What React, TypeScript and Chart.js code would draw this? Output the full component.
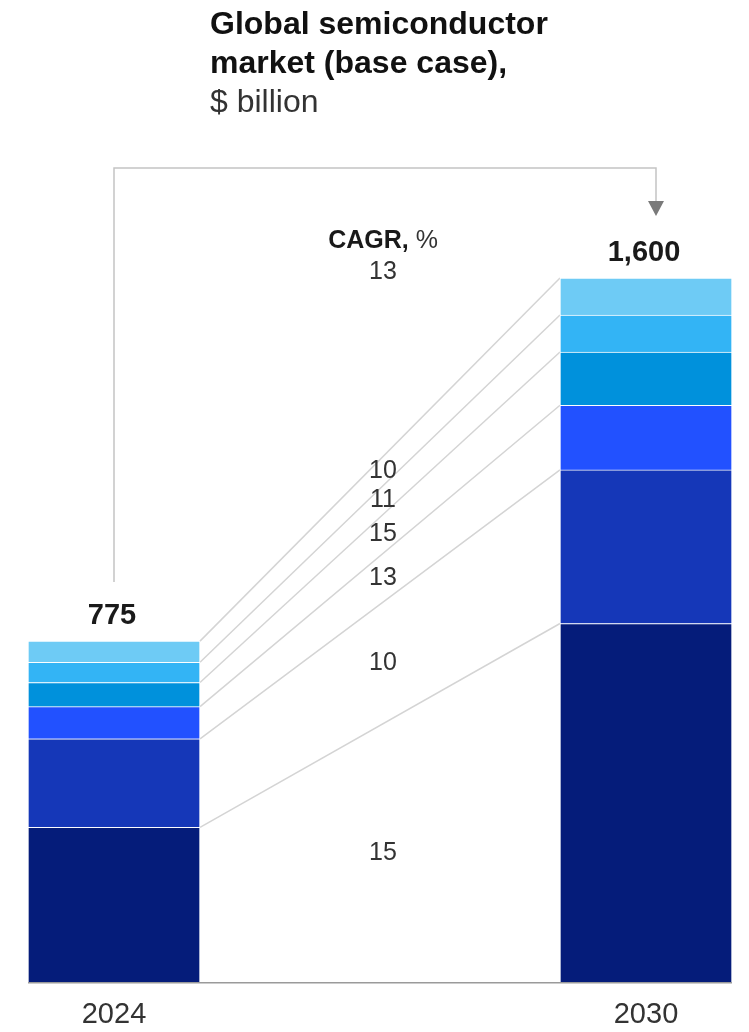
import React, { useEffect, useRef } from 'react';
import { Chart, registerables } from 'chart.js';

Chart.register(...registerables);

const years = ['2024', '2030'];
// segments listed bottom to top, $ billion
const values2024 = [352, 201, 73, 55, 46, 48];
const values2030 = [815, 349, 147, 121, 84, 84];
const totals = [775, 1600];
const totalLabels = ['775', '1,600'];
const segmentCagr = ['15', '10', '13', '15', '11', '10'];
const totalCagr = '13';
const segmentColors = ['#051C7A', '#1537B8', '#2251FF', '#0091DC', '#33B4F5', '#6ECBF5'];

const FONT = '"Liberation Sans", Arial, sans-serif';

const overlayPlugin = {
  id: 'overlay',
  beforeDatasetsDraw(chart: any) {
    const ctx = chart.ctx;
    ctx.save();
    ctx.strokeStyle = '#d4d4d4';
    ctx.lineWidth = 1.5;
    chart.data.datasets.forEach((_: any, i: number) => {
      const meta = chart.getDatasetMeta(i);
      const a = meta.data[0];
      const b = meta.data[1];
      ctx.beginPath();
      ctx.moveTo(a.x + a.width / 2, a.y);
      ctx.lineTo(b.x - b.width / 2, b.y);
      ctx.stroke();
    });
    ctx.restore();
  },
  afterDatasetsDraw(chart: any) {
    const ctx = chart.ctx;
    const yScale = chart.scales.y;
    const n = chart.data.datasets.length;
    const first = chart.getDatasetMeta(0);
    const bar0 = first.data[0];
    const bar1 = first.data[1];
    const leftEdge = bar0.x - bar0.width / 2;
    const rightEdge = bar1.x + bar1.width / 2;
    const gapL = bar0.x + bar0.width / 2;
    const gapR = bar1.x - bar1.width / 2;
    const xm = (gapL + gapR) / 2 + 3;
    const t = (xm - gapL) / (gapR - gapL);

    ctx.save();
    // baseline
    ctx.strokeStyle = '#9a9a9a';
    ctx.lineWidth = 1.5;
    ctx.beginPath();
    ctx.moveTo(leftEdge, chart.chartArea.bottom + 0.5);
    ctx.lineTo(rightEdge, chart.chartArea.bottom + 0.5);
    ctx.stroke();

    // totals
    ctx.fillStyle = '#1a1a1a';
    ctx.font = `bold 29px ${FONT}`;
    ctx.textAlign = 'center';
    ctx.textBaseline = 'alphabetic';
    const labelY: number[] = [];
    totals.forEach((v, i) => {
      const x = first.data[i].x - 2;
      const y = yScale.getPixelForValue(v) - 17;
      labelY.push(y);
      ctx.fillText(totalLabels[i], x, y);
    });

    // segment CAGR labels at band midpoints
    ctx.fillStyle = '#333333';
    ctx.font = `25px ${FONT}`;
    ctx.textBaseline = 'middle';
    for (let i = 0; i < n; i++) {
      const m = chart.getDatasetMeta(i);
      const a = m.data[0];
      const b = m.data[1];
      const topY = a.y + t * (b.y - a.y);
      const botY = a.base + t * (b.base - a.base);
      ctx.fillText(segmentCagr[i], xm, (topY + botY) / 2);
    }

    // CAGR header and total CAGR
    ctx.textBaseline = 'alphabetic';
    ctx.textAlign = 'left';
    ctx.font = `bold 25px ${FONT}`;
    const w1 = ctx.measureText('CAGR,').width;
    ctx.font = `25px ${FONT}`;
    const w2 = ctx.measureText(' %').width;
    const hx = xm - (w1 + w2) / 2;
    ctx.fillStyle = '#1a1a1a';
    ctx.font = `bold 25px ${FONT}`;
    ctx.fillText('CAGR,', hx, 248);
    ctx.fillStyle = '#333333';
    ctx.font = `25px ${FONT}`;
    ctx.fillText(' %', hx + w1, 248);
    ctx.textAlign = 'center';
    ctx.fillText(totalCagr, xm, 279);

    // bracket arrow
    const top = 168;
    const lx = bar0.x;
    const rx = bar1.x + 10;
    const legBottom = labelY[0] - 42;
    const tip = labelY[1] - 45;
    ctx.strokeStyle = '#c4c4c4';
    ctx.lineWidth = 1.5;
    ctx.beginPath();
    ctx.moveTo(lx, legBottom);
    ctx.lineTo(lx, top);
    ctx.lineTo(rx, top);
    ctx.lineTo(rx, tip - 14);
    ctx.stroke();
    ctx.fillStyle = '#7a7a7a';
    ctx.beginPath();
    ctx.moveTo(rx - 8, tip - 15);
    ctx.lineTo(rx + 8, tip - 15);
    ctx.lineTo(rx, tip);
    ctx.closePath();
    ctx.fill();
    ctx.restore();
  },
};

export default function App() {
  const ref = useRef<HTMLCanvasElement>(null);
  useEffect(() => {
    if (!ref.current) return;
    const datasets = values2024.map((v, i) => ({
      label: `segment ${i + 1}`,
      data: [v, values2030[i]],
      backgroundColor: segmentColors[i],
      borderColor: 'rgba(255,255,255,0.85)',
      borderWidth: 1,
      borderSkipped: 'bottom' as const,
      barThickness: 172,
      clip: false as any,
    }));
    const chart = new Chart(ref.current, {
      type: 'bar',
      data: { labels: years, datasets },
      options: {
        animation: false,
        responsive: false,
        maintainAspectRatio: false,
        layout: { padding: { top: 102, left: 114, right: 103, bottom: -15 } },
        plugins: { legend: { display: false }, tooltip: { enabled: false }, title: { display: false } },
        scales: {
          x: {
            type: 'category',
            stacked: true,
            offset: false,
            grid: { display: false, drawTicks: false },
            border: { display: false },
            ticks: { color: '#333333', font: { family: FONT, size: 29 }, padding: 15, maxRotation: 0 },
          },
          y: {
            stacked: true,
            display: false,
            min: 0,
            max: 2000,
          },
        },
      },
      plugins: [overlayPlugin],
    });
    return () => chart.destroy();
  }, []);

  return (
    <div style={{ position: 'absolute', left: 0, top: 0, width: 749, height: 1032, background: '#fff' }}>
      <canvas ref={ref} width={749} height={1032} style={{ position: 'absolute', left: 0, top: 0, width: 749, height: 1032 }} />
      <div
        style={{
          position: 'absolute',
          left: 210,
          top: 4,
          fontFamily: FONT,
          fontSize: 32,
          lineHeight: '39px',
          color: '#111',
          whiteSpace: 'nowrap',
        }}
      >
        <div style={{ fontWeight: 'bold' }}>Global semiconductor</div>
        <div style={{ fontWeight: 'bold' }}>market (base case),</div>
        <div style={{ color: '#333' }}>$ billion</div>
      </div>
    </div>
  );
}
